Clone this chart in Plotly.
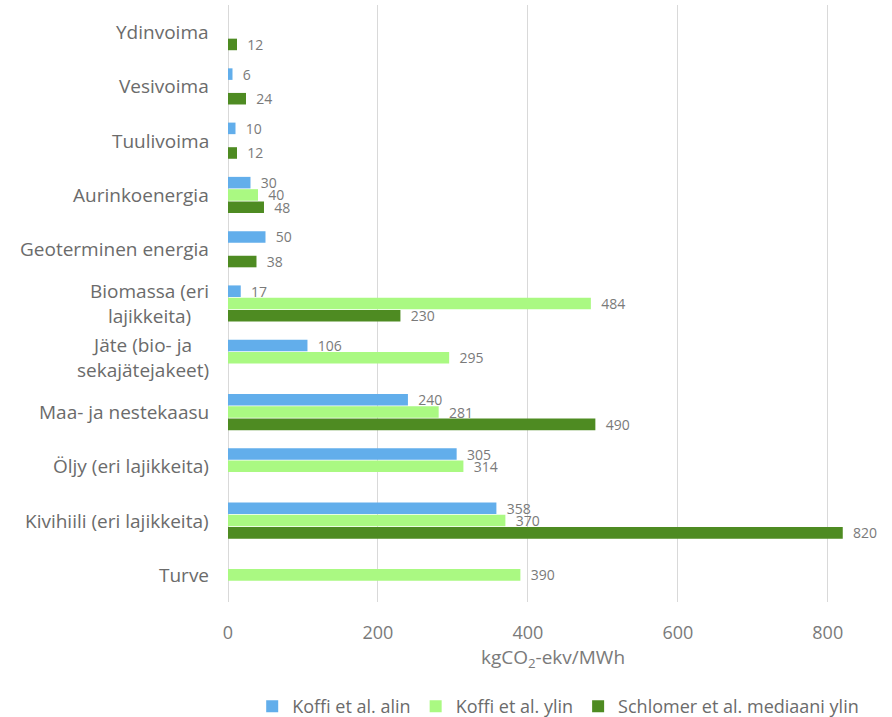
import plotly.graph_objects as go

categories = ["Ydinvoima", "Vesivoima", "Tuulivoima", "Aurinkoenergia", "Geoterminen energia",
              "Biomassa (eri<br>lajikkeita)", "Jäte (bio- ja<br>sekajätejakeet)", "Maa- ja nestekaasu",
              "Öljy (eri lajikkeita)", "Kivihiili (eri lajikkeita)", "Turve"]
koffi_alin = [None, 6, 10, 30, 50, 17, 106, 240, 305, 358, None]
koffi_ylin = [None, None, None, 40, None, 484, 295, 281, 314, 370, 390]
schlomer = [12, 24, 12, 48, 38, 230, None, 490, None, 820, None]
series_names = ["Koffi et al. alin", "Koffi et al. ylin", "Schlomer et al. mediaani ylin"]
colors = ["#62aeeb", "#aaf982", "#4e8b22"]
xticks = [0, 200, 400, 600, 800]

FONT = "Open Sans, Liberation Sans, Arial, sans-serif"
GREY = "#7a7a7a"
LABEL = "#6b6b6b"

fig = go.Figure()
for name, vals, col in zip(series_names, [koffi_alin, koffi_ylin, schlomer], colors):
    fig.add_trace(go.Bar(
        y=categories, x=vals, name=name, orientation="h",
        marker=dict(color=col, line=dict(width=0)),
        text=[("" if v is None else "  " + str(v)) for v in vals],
        textposition="outside", cliponaxis=False, constraintext="none",
        textfont=dict(family=FONT, size=14, color=GREY),
    ))

for c in categories:
    fig.add_annotation(x=-0.026, xref="paper", y=c, yref="y", text=c, showarrow=False,
                       xanchor="right", yanchor="middle", align="center",
                       font=dict(family=FONT, size=19, color=LABEL))

fig.update_layout(
    width=892, height=717,
    margin=dict(l=228, r=14, t=5, b=115, autoexpand=False),
    plot_bgcolor="white", paper_bgcolor="white",
    barmode="group", bargap=0.32, bargroupgap=0.06,
    font=dict(family=FONT, color=GREY),
    showlegend=True,
    legend=dict(orientation="h", x=0.508, xanchor="center", y=-0.175, yanchor="middle",
                font=dict(family=FONT, size=18, color=LABEL), traceorder="normal",
                itemwidth=30),
    xaxis=dict(range=[0, 867], tickvals=xticks, showgrid=True, gridcolor="#d9d9d9", gridwidth=1,
               zeroline=True, zerolinecolor="#d9d9d9", zerolinewidth=1,
               tickfont=dict(family=FONT, size=18, color=GREY), ticks="",
               ticklabelstandoff=18, automargin=False,
               title=dict(text="kgCO<sub>2</sub>-ekv/MWh", font=dict(family=FONT, size=19, color=GREY),
                          standoff=4)),
    yaxis=dict(autorange="reversed", showticklabels=False, showgrid=False, ticks="",
               automargin=False),
)

fig.write_html("out.html")
